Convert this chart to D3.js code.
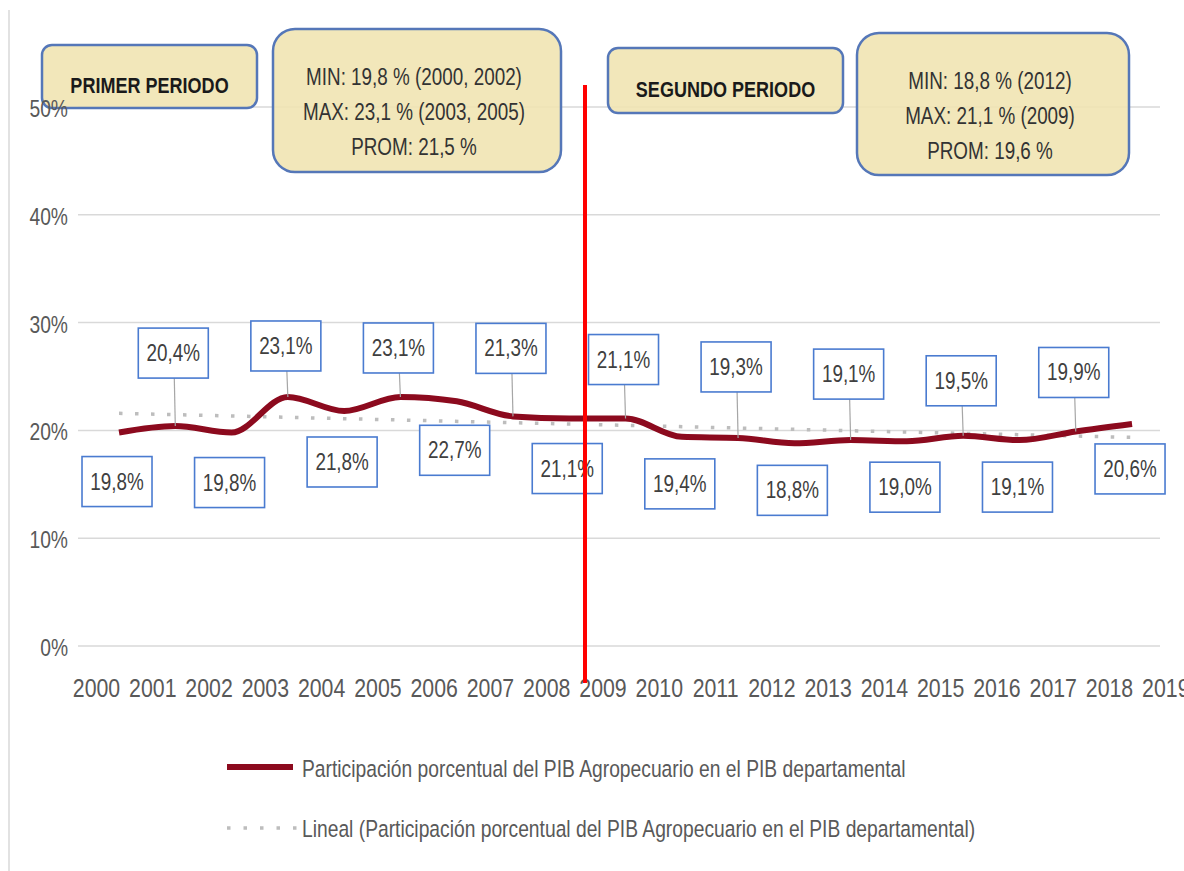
<!DOCTYPE html>
<html>
<head>
<meta charset="utf-8">
<script src="https://cdn.jsdelivr.net/npm/d3@7"></script>
<style>
  html,body{margin:0;padding:0;background:#fff;}
  svg{display:block;font-family:"Liberation Sans",Arial,sans-serif;}
</style>
</head>
<body>
<div id="chart"></div>
<script>
// Participación del PIB agropecuario en el PIB departamental, 2000-2018
const years = [2000,2001,2002,2003,2004,2005,2006,2007,2008,2009,2010,2011,2012,2013,2014,2015,2016,2017,2018];
const pib   = [19.8,20.4,19.8,23.1,21.8,23.1,22.7,21.3,21.1,21.1,19.4,19.3,18.8,19.1,19.0,19.5,19.1,19.9,20.6];
const axisYears = [2000,2001,2002,2003,2004,2005,2006,2007,2008,2009,2010,2011,2012,2013,2014,2015,2016,2017,2018,2019];
const pctTicks = [0,10,20,30,40,50];
const periodTitles = ["PRIMER PERIODO","SEGUNDO PERIODO"];
const periodStats = [
  ["MIN: 19,8 % (2000, 2002)","MAX: 23,1 % (2003, 2005)","PROM: 21,5 %"],
  ["MIN: 18,8 % (2012)","MAX: 21,1 % (2009)","PROM: 19,6 %"]
];
const legendLabels = [
  "Participación porcentual del PIB Agropecuario en el PIB departamental",
  "Lineal (Participación porcentual del PIB Agropecuario en el PIB departamental)"
];
const splitYear = 2008.68;   // línea roja entre periodos
// posición de cada etiqueta respecto a su punto (px): <0 encima (borde inferior), >0 debajo (borde superior)
const labelOffset = [24,-48,25,-26,26,-24,24,-43,25,-34,22,-46,22,-41,21,-30,22,-34,20];

const W=1184, H=871;
const TXT="#595959", RED_LINE="#8c0a1e";
const SX=0.82;   // letra estrecha (tipo "narrow")
const x = d3.scaleLinear().domain([2000,2019]).range([96.5,1165.8]);
const y = d3.scaleLinear().domain([0,50]).range([646,107]);
const px = yr => x(yr+0.4);   // los puntos quedan entre las etiquetas del eje
const at = (a,b)=>`translate(${a},${b}) scale(${SX},1)`;

const svg = d3.select("#chart").append("svg").attr("width",W).attr("height",H);

// borde izquierdo del área del gráfico
svg.append("line").attr("x1",9).attr("x2",9).attr("y1",10).attr("y2",H).attr("stroke","#d9d9d9").attr("stroke-width",1.5);

// rejilla
svg.append("g").selectAll("line").data(pctTicks).join("line")
  .attr("x1",78).attr("x2",1160).attr("y1",d=>y(d)).attr("y2",d=>y(d))
  .attr("stroke","#d9d9d9").attr("stroke-width",1.5);

// cuadros de periodo
const boxes = svg.append("g");
const titleBox = [{x:42,y:45,w:215,h:63},{x:608,y:48,w:235,h:65}];
const statBox  = [{x:273,y:29,w:288,h:143},{x:857,y:33,w:272,h:142}];
titleBox.forEach((b,i)=>{
  boxes.append("rect").attr("x",b.x).attr("y",b.y).attr("width",b.w).attr("height",b.h).attr("rx",10)
    .attr("fill","#f0e4b0").attr("fill-opacity",0.88).attr("stroke","#5577b8").attr("stroke-width",2.5);
  boxes.append("text").attr("transform",at(b.x+b.w/2,b.y+b.h/2+16)).attr("text-anchor","middle")
    .attr("font-size",22).attr("font-weight","bold").attr("fill","#1a1a1a").text(periodTitles[i]);
});
statBox.forEach((b,i)=>{
  boxes.append("rect").attr("x",b.x).attr("y",b.y).attr("width",b.w).attr("height",b.h).attr("rx",22)
    .attr("fill","#f0e4b0").attr("fill-opacity",0.88).attr("stroke","#5577b8").attr("stroke-width",2.5);
  periodStats[i].forEach((s,j)=>{
    boxes.append("text").attr("transform",at(b.x+b.w/2-3,b.y+48+j*35+8)).attr("text-anchor","middle")
      .attr("font-size",23).attr("fill","#333").text(s);
  });
});

// etiquetas del eje Y
svg.append("g").selectAll("text").data(pctTicks).join("text")
  .attr("transform",d=>at(68,y(d)+10)).attr("text-anchor","end")
  .attr("font-size",23.5).attr("fill",TXT).text(d=>d+"%");

// etiquetas del eje X
svg.append("g").selectAll("text").data(axisYears).join("text")
  .attr("transform",d=>at(x(d),697)).attr("text-anchor","middle")
  .attr("font-size",26).attr("fill",TXT).text(d=>d);

// línea de tendencia (mínimos cuadrados)
const mx=d3.mean(years), my=d3.mean(pib);
const slope=d3.sum(years,(d,i)=>(d-mx)*(pib[i]-my))/d3.sum(years,d=>(d-mx)**2);
const trend=yr=>my+slope*(yr-mx);
svg.append("line")
  .attr("x1",px(years[0])).attr("y1",y(trend(years[0])))
  .attr("x2",px(years[years.length-1])).attr("y2",y(trend(years[years.length-1])))
  .attr("stroke","#bdbdbd").attr("stroke-width",3.5).attr("stroke-dasharray","3.5,12.5");

// serie principal
const line = d3.line().x((d,i)=>px(years[i])).y(d=>y(d)).curve(d3.curveMonotoneX);
svg.append("path").datum(pib).attr("d",line).attr("fill","none")
  .attr("stroke",RED_LINE).attr("stroke-width",6).attr("stroke-linejoin","round");

// etiquetas de datos
const bw=70, bh=50;
const lab = svg.append("g");
pib.forEach((v,i)=>{
  const cx=px(years[i]), cy=y(v), off=labelOffset[i];
  const top = off<0 ? cy+off-bh : cy+off;
  const bx = cx-2-bw/2;
  if(off<0){
    lab.append("line").attr("x1",cx-1).attr("y1",top+bh).attr("x2",cx).attr("y2",cy)
      .attr("stroke","#a6a6a6").attr("stroke-width",1.2);
  }
  lab.append("rect").attr("x",bx).attr("y",top).attr("width",bw).attr("height",bh)
    .attr("fill","#fff").attr("stroke","#4a7bd0").attr("stroke-width",1.6);
  lab.append("text").attr("transform",at(bx+bw/2,top+bh/2+8)).attr("text-anchor","middle")
    .attr("font-size",23).attr("fill","#404040").text(v.toFixed(1).replace(".",",")+"%");
});

// separación de periodos
svg.append("line").attr("x1",x(splitYear)).attr("x2",x(splitYear)).attr("y1",85).attr("y2",683)
  .attr("stroke","#ff0000").attr("stroke-width",4);

// leyenda
const lg = svg.append("g");
lg.append("line").attr("x1",227).attr("x2",293).attr("y1",767).attr("y2",767)
  .attr("stroke",RED_LINE).attr("stroke-width",6);
lg.append("text").attr("transform",at(302,777)).attr("font-size",23.5).attr("fill",TXT).text(legendLabels[0]);
lg.append("line").attr("x1",227).attr("x2",297).attr("y1",828).attr("y2",828)
  .attr("stroke","#bdbdbd").attr("stroke-width",3.5).attr("stroke-dasharray","3.5,13");
lg.append("text").attr("transform",at(302,837)).attr("font-size",23.5).attr("fill",TXT).text(legendLabels[1]);
</script>
</body>
</html>
